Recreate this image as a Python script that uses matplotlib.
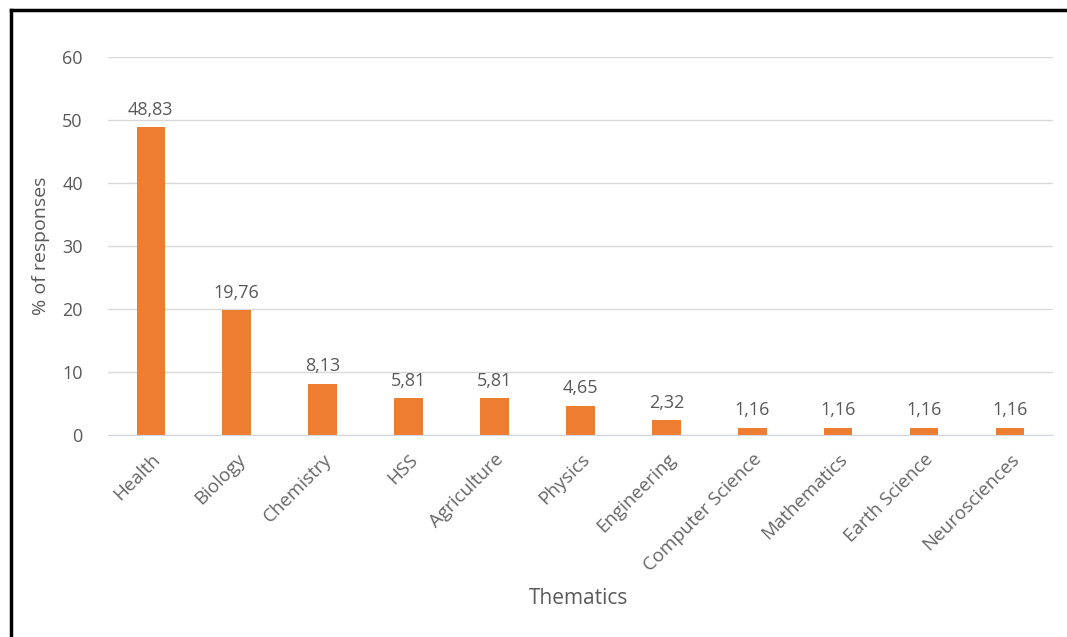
import matplotlib
matplotlib.use("Agg")
import matplotlib.pyplot as plt
from matplotlib.lines import Line2D

categories = ["Health", "Biology", "Chemistry", "HSS", "Agriculture", "Physics",
              "Engineering", "Computer Science", "Mathematics", "Earth Science", "Neurosciences"]
values = [48.83, 19.76, 8.13, 5.81, 5.81, 4.65, 2.32, 1.16, 1.16, 1.16, 1.16]
yticks = [0, 10, 20, 30, 40, 50, 60]

plt.rcParams['font.family'] = ['Open Sans', 'DejaVu Sans']
txt = '#595959'

fig = plt.figure(figsize=(10.67, 6.37), dpi=100)
ax = fig.add_axes([0.101, 0.317, 0.886, 0.594])
x = list(range(len(categories)))
ax.bar(x, values, width=0.33, color='#ED7D31', zorder=3)
for xi, v in zip(x, values):
    ax.annotate(f"{v:.2f}".replace('.', ','), (xi, v), xytext=(0, 6), textcoords='offset points',
                ha='center', va='bottom', fontsize=13, color=txt)

ax.set_xlim(-0.5, len(categories) - 0.5)
ax.set_ylim(0, 60)
ax.set_yticks(yticks)
ax.set_yticklabels([str(t) for t in yticks], fontsize=13, color=txt)
ax.set_xticks(x)
ax.set_xticklabels(categories, rotation=45, ha='right', rotation_mode='anchor', fontsize=13.5, color='#666666')
ax.tick_params(axis='both', length=0)
ax.tick_params(axis='x', pad=11)
ax.tick_params(axis='y', pad=18)
ax.grid(axis='y', color='#D9D9D9', linewidth=1, zorder=0)
for s in ['top', 'right', 'left']:
    ax.spines[s].set_visible(False)
ax.spines['bottom'].set_color('#D0D7E0')
ax.spines['bottom'].set_zorder(4)

ax.set_ylabel('% of responses', fontsize=14, color=txt, labelpad=9)
fig.text(0.542, 0.061, 'Thematics', ha='center', va='center', fontsize=15, color=txt)

# partial frame (left and top edges)
fig.add_artist(Line2D([0.0103, 0.0103], [0, 0.984], transform=fig.transFigure, color='black', linewidth=2.5))
fig.add_artist(Line2D([0.0103, 1.0], [0.984, 0.984], transform=fig.transFigure, color='black', linewidth=2.5))

fig.savefig('out.png', dpi=100, facecolor='white')
